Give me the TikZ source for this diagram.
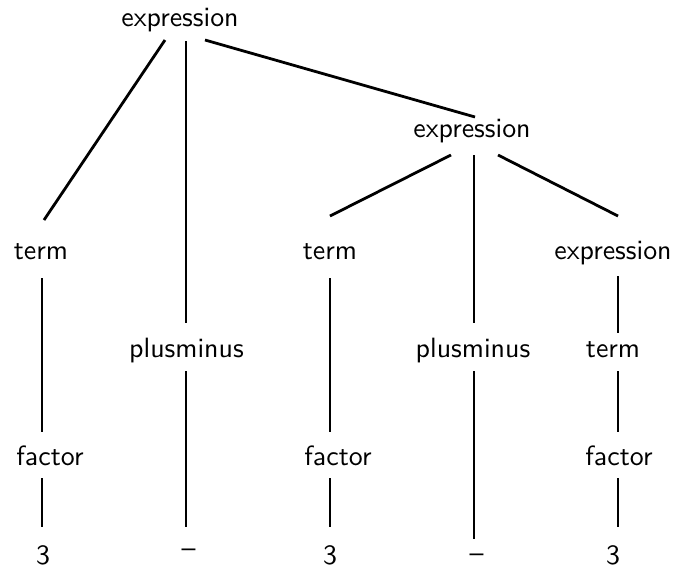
\documentclass[tikz,border=0pt]{standalone}
\usetikzlibrary{calc}
\begin{document}
\begin{tikzpicture}[x=0.3585pt, y=-0.3585pt,
  lbl/.style={anchor=base, inner sep=0pt, font=\sffamily},
  edge/.style={line width=1pt, black}]
\useasboundingbox (0,0) rectangle (678,569);
% nodes (positioned at text baseline)
\node[lbl] (root)  at (180,26)    {expression};
\node[lbl] (expr2) at (472,137)   {expression};
\node[lbl] (term1) at (41,259)    {term};
\node[lbl] (term2) at (330,259)   {term};
\node[lbl] (expr3) at (613,259)   {expression};
\node[lbl] (pm1)   at (186.5,357) {plusminus};
\node[lbl] (pm2)   at (473,357)   {plusminus};
\node[lbl] (term3) at (613,357)   {term};
\node[lbl] (fac1)  at (50,465)    {factor};
\node[lbl] (fac2)  at (338,465)   {factor};
\node[lbl] (fac3)  at (619,465)   {factor};
\node[lbl] (three1) at (43,564)   {3};
\node[lbl] (dash1)  at (188.5,557.5) {--};
\node[lbl] (three2) at (330,564)  {3};
\node[lbl] (dash2)  at (476.5,562.5) {--};
\node[lbl] (three3) at (613,564)  {3};
% connectors
\draw[edge] ($(root.base)+(-15,14)$) -- ($(term1.base)+(3,-39)$);
\draw[edge] ($(root.base)+(6,15)$)   -- ($(pm1.base)+(-0.5,-34)$);
\draw[edge] ($(root.base)+(25,14)$)  -- ($(expr2.base)+(3,-20)$);
\draw[edge] ($(expr2.base)+(-21,18)$) -- ($(term2.base)+(0,-43)$);
\draw[edge] ($(expr2.base)+(2,18)$)   -- ($(pm2.base)+(1,-34)$);
\draw[edge] ($(expr2.base)+(26,18)$)  -- ($(expr3.base)+(5,-43)$);
\draw[edge] ($(term1.base)+(1,19)$)  -- ($(fac1.base)+(-8,-33)$);
\draw[edge] ($(term2.base)+(0,19)$)  -- ($(fac2.base)+(-8,-33)$);
\draw[edge] ($(expr3.base)+(5,17)$)  -- ($(term3.base)+(5,-24)$);
\draw[edge] ($(term3.base)+(5,14)$)  -- ($(fac3.base)+(-1,-33)$);
\draw[edge] ($(pm1.base)+(-0.5,14)$) -- ($(dash1.base)+(-2.5,-30.5)$);
\draw[edge] ($(pm2.base)+(1,14)$)    -- ($(dash2.base)+(-2.5,-23.5)$);
\draw[edge] ($(fac1.base)+(-8,13)$)  -- ($(three1.base)+(-1,-37)$);
\draw[edge] ($(fac2.base)+(-8,13)$)  -- ($(three2.base)+(0,-37)$);
\draw[edge] ($(fac3.base)+(-1,13)$)  -- ($(three3.base)+(5,-37)$);
\end{tikzpicture}
\end{document}
